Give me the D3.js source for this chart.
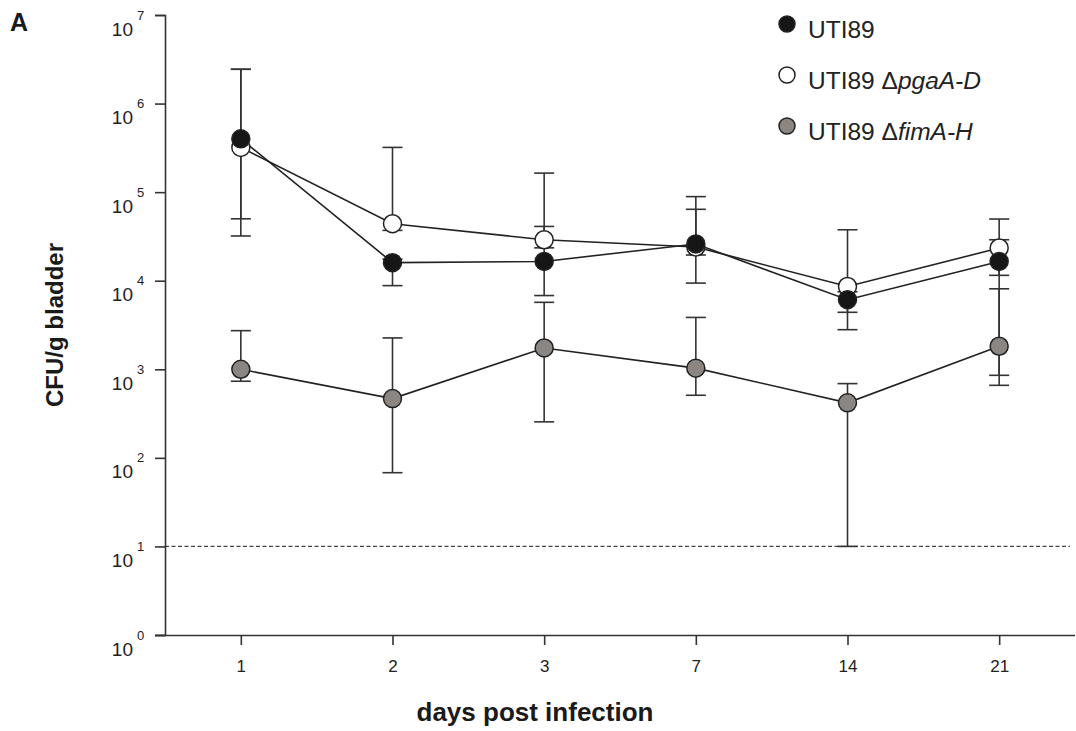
<!DOCTYPE html>
<html>
<head>
<meta charset="utf-8">
<script src="https://cdn.jsdelivr.net/npm/d3@7"></script>
<style>
  body { margin: 0; background: #fff; }
  text { font-family: Arial, "Liberation Sans", sans-serif; }
</style>
</head>
<body>
<div id="chart"></div>
<script>
// days post infection (categories)
const days = ["1", "2", "3", "7", "14", "21"];
const yTicks = [1, 10, 100, 1e3, 1e4, 1e5, 1e6, 1e7];
const detectionLimit = 10;

// UTI89
const wtMean = [4.0e5, 1.6e4, 1.65e4, 2.6e4, 6.1e3, 1.65e4];
const wtUpper = [2.44e6, 1.75e4, 4.1e4, 6.4e4, 7.5e3, 2.9e4];
const wtLower = [3.2e4, 8.8e3, 6.8e3, 9.4e3, 2.8e3, 855];

// UTI89 dpgaA-D
const pgaMean = [3.2e5, 4.4e4, 2.9e4, 2.4e4, 8.6e3, 2.34e4];
const pgaUpper = [2.44e6, 3.2e5, 1.64e5, 8.9e4, 3.76e4, 4.97e4];
const pgaLower = [5.0e4, 3.7e4, 2.35e4, 1.95e4, 4.4e3, 1.15e4];

// UTI89 dfimA-H
const fimMean = [1.0e3, 467, 1.74e3, 1.03e3, 418, 1.82e3];
const fimUpper = [2.73e3, 2.26e3, 5.7e3, 3.85e3, 689, 8.1e3];
const fimLower = [733, 68, 255, 509, 10, 659];

const width = 1076, height = 731;
const margin = { left: 165, right: 1075, top: 15, bottom: 635 };

const series = [
  { mean: fimMean, up: fimUpper, lo: fimLower, fill: "#8b8682" },
  { mean: pgaMean, up: pgaUpper, lo: pgaLower, fill: "#ffffff" },
  { mean: wtMean, up: wtUpper, lo: wtLower, fill: "#161616" }
];

const svg = d3.select("#chart").append("svg")
  .attr("width", width).attr("height", height);

const x = d3.scalePoint().domain(days).range([margin.left, margin.right]).padding(0.5);
const y = d3.scaleLog().domain([1, 1e7]).range([margin.bottom, margin.top]);

// dashed detection limit
svg.append("line")
  .attr("x1", margin.left).attr("x2", 1070)
  .attr("y1", y(detectionLimit)).attr("y2", y(detectionLimit))
  .attr("stroke", "#444").attr("stroke-width", 1.2)
  .attr("stroke-dasharray", "4,2.5");

// axes
const yAxis = svg.append("g")
  .attr("transform", `translate(${margin.left},0)`)
  .call(d3.axisLeft(y).tickValues(yTicks).tickSize(10).tickFormat(""));
yAxis.selectAll(".tick text").remove();
yAxis.selectAll(".tick").append("text")
  .attr("x", -32).attr("y", 20)
  .attr("fill", "#222").attr("text-anchor", "end")
  .style("font-size", "19px")
  .text("10");
yAxis.selectAll(".tick").append("text")
  .attr("x", -28).attr("y", 4)
  .attr("fill", "#222").attr("text-anchor", "start")
  .style("font-size", "13px")
  .text(d => Math.round(Math.log10(d)));

const xAxis = svg.append("g")
  .attr("transform", `translate(0,${margin.bottom})`)
  .call(d3.axisBottom(x).tickSize(10).tickPadding(15));
xAxis.selectAll(".tick text").style("font-size", "17px").attr("fill", "#222");

svg.selectAll(".domain").attr("stroke", "#333").attr("stroke-width", 1.6);
svg.selectAll(".tick line").attr("stroke", "#333").attr("stroke-width", 1.6);
xAxis.select(".domain").attr("d", `M${margin.left - 10},0.5H${margin.right}`);

// error bars
const bars = svg.append("g").attr("stroke", "#333").attr("stroke-width", 1.6);
series.forEach(s => {
  days.forEach((d, i) => {
    const cx = x(d);
    bars.append("line").attr("x1", cx).attr("x2", cx)
      .attr("y1", y(s.up[i])).attr("y2", y(s.lo[i]));
    [s.up[i], s.lo[i]].forEach(v => {
      bars.append("line").attr("x1", cx - 10).attr("x2", cx + 10)
        .attr("y1", y(v)).attr("y2", y(v));
    });
  });
});

// lines and markers
const line = d3.line().x((d, i) => x(days[i])).y(d => y(d));
series.forEach(s => {
  svg.append("path")
    .attr("d", line(s.mean))
    .attr("fill", "none").attr("stroke", "#222").attr("stroke-width", 1.6);
});
series.forEach(s => {
  svg.append("g").selectAll("circle")
    .data(s.mean)
    .join("circle")
    .attr("cx", (d, i) => x(days[i]))
    .attr("cy", d => y(d))
    .attr("r", 9)
    .attr("fill", s.fill)
    .attr("stroke", "#222").attr("stroke-width", 1.5);
});

// legend
const legendItems = [
  { fill: "#161616", mutant: "" },
  { fill: "#ffffff", mutant: "\u0394pgaA-D" },
  { fill: "#8b8682", mutant: "\u0394fimA-H" }
];
const legend = svg.append("g");
legendItems.forEach((it, i) => {
  const ly = 26 + i * 51;
  legend.append("circle").attr("cx", 787).attr("cy", ly - 2).attr("r", 8)
    .attr("fill", it.fill).attr("stroke", "#222").attr("stroke-width", 1.5);
  const t = legend.append("text").attr("x", 808).attr("y", ly + 12)
    .style("font-size", "24.5px").attr("fill", "#222");
  t.append("tspan").text("UTI89");
  if (it.mutant) {
    t.append("tspan").text(" " + it.mutant.slice(0, 1));
    t.append("tspan").attr("font-style", "italic").text(it.mutant.slice(1));
  }
});

// axis titles
svg.append("text")
  .attr("x", 535).attr("y", 721)
  .attr("text-anchor", "middle")
  .style("font-size", "26px").attr("font-weight", "bold").attr("fill", "#1a1a1a")
  .text("days post infection");

svg.append("text")
  .attr("transform", "translate(63,325) rotate(-90)")
  .attr("text-anchor", "middle")
  .style("font-size", "24px").attr("font-weight", "bold").attr("fill", "#1a1a1a")
  .text("CFU/g bladder");

svg.append("text")
  .attr("x", 10).attr("y", 31)
  .style("font-size", "25px").attr("font-weight", "bold").attr("fill", "#1a1a1a")
  .text("A");
</script>
</body>
</html>
